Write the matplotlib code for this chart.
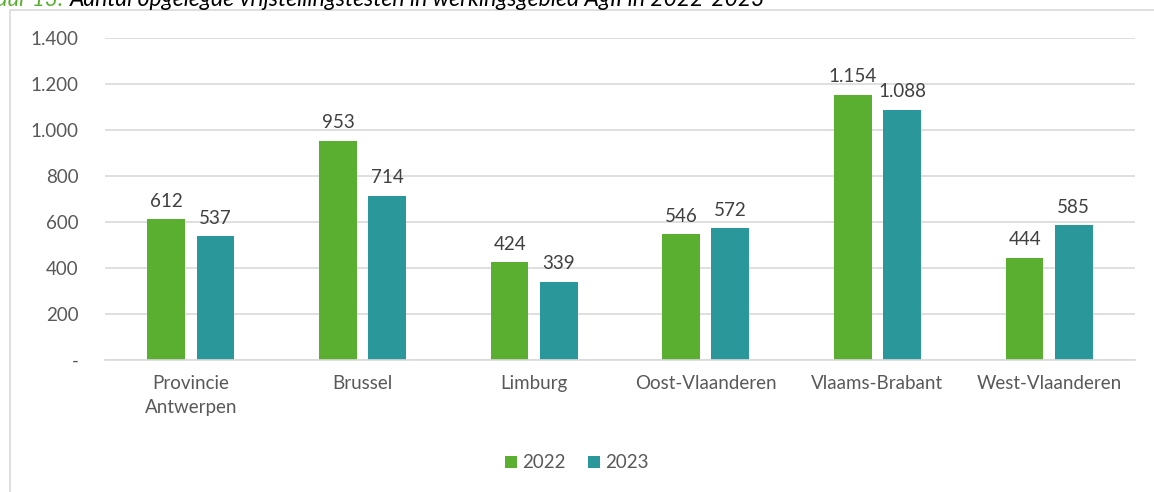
import numpy as np
import matplotlib.pyplot as plt
from matplotlib.patches import Rectangle

regions = ["Provincie\nAntwerpen", "Brussel", "Limburg", "Oost-Vlaanderen",
           "Vlaams-Brabant", "West-Vlaanderen"]
years = ["2022", "2023"]
values_2022 = [612, 953, 424, 546, 1154, 444]
values_2023 = [537, 714, 339, 572, 1088, 585]
yticks = [0, 200, 400, 600, 800, 1000, 1200, 1400]

green = "#5AAF31"
teal = "#2A979B"
grey = "#595959"
fs = 13.5

plt.rcParams['font.family'] = ['Lato', 'DejaVu Sans']


def fmt(v):
    return "-" if v == 0 else f"{v:,}".replace(",", ".")


fig = plt.figure(figsize=(11.54, 4.92), dpi=100)
ax = fig.add_axes([0.091, 0.2683, 0.8925, 0.6545])

# chart frame and caption (cut off at the top, as in the source)
fig.patches.append(Rectangle((10 / 1154, -0.1), 1.2, 1 - 10 / 492 + 0.1,
                             transform=fig.transFigure, fill=False,
                             edgecolor="#D9D9D9", linewidth=1.2))
fig.text(63 / 1154, 1 - 6 / 492, "Figuur 13:", color=green, fontsize=16,
         style="italic", va="baseline", ha="right")
fig.text(70 / 1154, 1 - 6 / 492,
         "Aantal opgelegde vrijstellingstesten in werkingsgebied AgII in 2022-2023",
         color="black", fontsize=16.5, style="italic", va="baseline")

x = np.arange(len(regions))
w = 0.22
off = 0.143
b1 = ax.bar(x - off, values_2022, w, color=green, label=years[0])
b2 = ax.bar(x + off, values_2023, w, color=teal, label=years[1])
for bars, vals in ((b1, values_2022), (b2, values_2023)):
    for r, v in zip(bars, vals):
        ax.annotate(fmt(v), (r.get_x() + r.get_width() / 2, v),
                    xytext=(0, 7), textcoords="offset points",
                    ha="center", va="bottom", color="#404040", fontsize=fs)

ax.set_xlim(-0.5, len(regions) - 0.5)
ax.set_ylim(0, 1400)
ax.set_yticks(yticks)
ax.set_yticklabels([fmt(v) for v in yticks])
ax.set_xticks(x)
ax.set_xticklabels(regions, linespacing=1.45)
ax.tick_params(axis="both", length=0, labelsize=fs, colors=grey)
ax.tick_params(axis="y", pad=19)
ax.tick_params(axis="x", pad=11)
ax.grid(axis="y", color="#D9D9D9", linewidth=1.2)
ax.set_axisbelow(True)
for s in ["top", "right", "left"]:
    ax.spines[s].set_visible(False)
ax.spines["bottom"].set_color("#D9D9D9")
ax.spines["bottom"].set_linewidth(1.2)

fig.legend(loc="center", bbox_to_anchor=(0.5, 1 - 463 / 492), ncol=2,
           frameon=False, fontsize=fs, labelcolor=grey, handlelength=0.6,
           handleheight=0.6, handletextpad=0.3, columnspacing=1.2)

fig.savefig("out.png", dpi=100)
